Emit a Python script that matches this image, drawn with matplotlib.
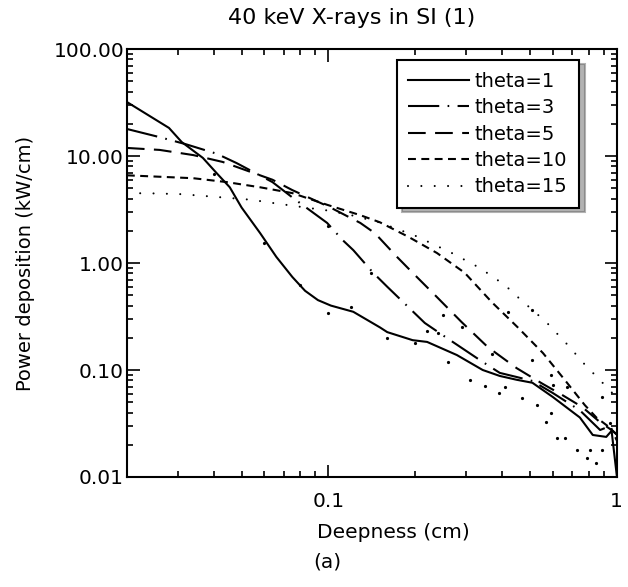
import matplotlib
matplotlib.use('Agg')
import matplotlib.pyplot as plt
from matplotlib.ticker import FixedLocator, FormatStrFormatter, LogLocator, NullFormatter

# Power deposition of 40 keV X-rays in Si
# deepness in cm, power in kW/cm
x_t1 = [0.02, 0.028, 0.031, 0.0367, 0.041, 0.0455, 0.050, 0.058, 0.066, 0.075,
        0.083, 0.092, 0.102, 0.122, 0.151, 0.16, 0.196, 0.22, 0.279, 0.343, 0.393,
        0.45, 0.51, 0.60, 0.745, 0.826, 0.92, 0.96, 1.0]
y_t1 = [32, 18.3, 13.5, 9.6, 6.9, 5.1, 3.3, 1.9, 1.14, 0.74,
        0.55, 0.45, 0.40, 0.35, 0.25, 0.226, 0.19, 0.183, 0.138, 0.100, 0.088,
        0.081, 0.076, 0.056, 0.036, 0.0247, 0.0237, 0.027, 0.0105]

x_t3 = [0.02, 0.026, 0.032, 0.041, 0.048, 0.064, 0.075, 0.099, 0.112, 0.122,
        0.143, 0.16, 0.216, 0.257, 0.335, 0.393, 0.45, 0.51, 0.60, 0.745,
        0.876, 0.95, 1.0]
y_t3 = [17.9, 15, 12.9, 10.5, 8.6, 5.7, 4.1, 2.37, 1.64, 1.32,
        0.81, 0.6, 0.275, 0.2, 0.124, 0.094, 0.086, 0.079, 0.061, 0.042,
        0.0275, 0.03, 0.022]

x_t5 = [0.02, 0.026, 0.034, 0.043, 0.064, 0.075, 0.101, 0.129, 0.145, 0.173,
        0.196, 0.238, 0.29, 0.357, 0.45, 0.55, 0.65, 0.76, 0.87, 0.95, 1.0]
y_t5 = [11.9, 11.4, 10.2, 8.8, 6.0, 4.8, 3.33, 2.37, 1.9, 1.14,
        0.81, 0.48, 0.28, 0.164, 0.104, 0.075, 0.058, 0.045, 0.033, 0.028, 0.025]

x_t10 = [0.02, 0.026, 0.034, 0.0445, 0.058, 0.075, 0.099, 0.129, 0.151, 0.19,
         0.238, 0.297, 0.369, 0.454, 0.555, 0.66, 0.775, 0.85, 0.93, 1.0]
y_t10 = [6.6, 6.4, 6.2, 5.7, 5.1, 4.5, 3.5, 2.8, 2.4, 1.75,
         1.24, 0.81, 0.43, 0.25, 0.144, 0.081, 0.047, 0.036, 0.03, 0.025]

x_t15 = [0.02, 0.0226, 0.031, 0.043, 0.054, 0.066, 0.08, 0.099, 0.12, 0.15,
         0.2, 0.268, 0.335, 0.41, 0.454, 0.57, 0.687, 0.76, 0.84, 0.92, 1.0]
y_t15 = [4.4, 4.5, 4.4, 4.1, 3.9, 3.6, 3.35, 3.1, 2.8, 2.4,
         1.8, 1.24, 0.9, 0.62, 0.48, 0.28, 0.164, 0.119, 0.09, 0.07, 0.055]

# stray specks scattered around the curves in the scan
speck_x = [0.10, 0.12, 0.16, 0.20, 0.22, 0.24, 0.26, 0.31, 0.35, 0.39,
           0.41, 0.47, 0.53, 0.57, 0.62, 0.66, 0.73, 0.79, 0.85, 0.89,
           0.95, 0.37, 0.29, 0.25, 0.42, 0.51, 0.51, 0.59, 0.60, 0.67,
           0.59, 0.81, 0.89, 0.060, 0.080, 0.14, 0.10, 0.040]
speck_y = [0.34, 0.39, 0.20, 0.18, 0.23, 0.22, 0.12, 0.081, 0.071, 0.061,
           0.069, 0.055, 0.047, 0.033, 0.023, 0.023, 0.018, 0.015, 0.0135, 0.018,
           0.032, 0.14, 0.25, 0.33, 0.35, 0.36, 0.124, 0.09, 0.072, 0.069,
           0.04, 0.018, 0.056, 1.54, 0.62, 0.81, 2.2, 6.8]

labels = ['theta=1', 'theta=3', 'theta=5', 'theta=10', 'theta=15']
series = [(x_t1, y_t1), (x_t3, y_t3), (x_t5, y_t5), (x_t10, y_t10), (x_t15, y_t15)]
# IDL-like line styles: solid, long dash-dot, long dash, dash, dot
styles = ['-', (0, (15, 4, 0.8, 4)), (0, (8.5, 4.5)), (0, (3.8, 2.6)), (0, (0.01, 6.4))]

fig = plt.figure(figsize=(6.28, 5.87), dpi=100)
ax = fig.add_axes([0.202, 0.1874, 0.78, 0.7291])

for (xs, ys), lab, ls in zip(series, labels, styles):
    ax.plot(xs, ys, color='black', lw=1.5, linestyle=ls, label=lab,
            dash_capstyle='round' if lab == 'theta=15' else 'butt')

ax.plot(speck_x, speck_y, 'o', color='black', ms=2.3, mew=0)

ax.set_xscale('log')
ax.set_yscale('log')
ax.set_xlim(0.02, 1.0)
ax.set_ylim(0.01, 100)

ax.xaxis.set_major_locator(FixedLocator([0.1, 1.0]))
ax.xaxis.set_major_formatter(FormatStrFormatter('%g'))
ax.xaxis.set_minor_locator(LogLocator(base=10, subs=range(2, 10)))
ax.xaxis.set_minor_formatter(NullFormatter())
ax.yaxis.set_major_locator(FixedLocator([0.01, 0.1, 1, 10, 100]))
ax.yaxis.set_major_formatter(FormatStrFormatter('%.2f'))
ax.yaxis.set_minor_locator(LogLocator(base=10, subs=range(2, 10)))
ax.yaxis.set_minor_formatter(NullFormatter())

ax.tick_params(which='both', direction='in', top=True, right=True, width=1.2)
ax.tick_params(which='major', length=9, labelsize=14.5)
ax.tick_params(which='minor', length=4.5)
ax.tick_params(axis='x', which='major', pad=11)
ax.tick_params(axis='y', which='major', pad=2)
for sp in ax.spines.values():
    sp.set_linewidth(1.5)

ax.set_xlabel('Deepness (cm)', fontsize=14.5, va='top')
ax.xaxis.set_label_coords(0.545, -0.107)
ax.set_ylabel('Power deposition (kW/cm)', fontsize=14, va='center')
ax.yaxis.set_label_coords(-0.207, 0.5)

fig.text(0.56, 0.969, '40 keV X-rays in SI (1)', fontsize=16, ha='center', va='center')
fig.text(0.521, 0.043, '(a)', fontsize=14.5, ha='center', va='center')

leg = ax.legend(loc='upper left', bbox_to_anchor=(0.551, 0.974), borderaxespad=0,
                fontsize=14, handlelength=3.1, handletextpad=0.3, labelspacing=0.38,
                borderpad=0.6, fancybox=False, edgecolor='black', framealpha=1,
                shadow={'ox': 4, 'oy': -3, 'color': '0.4'})
leg.get_frame().set_linewidth(1.5)

plt.savefig('out.png', dpi=100)
plt.close()
